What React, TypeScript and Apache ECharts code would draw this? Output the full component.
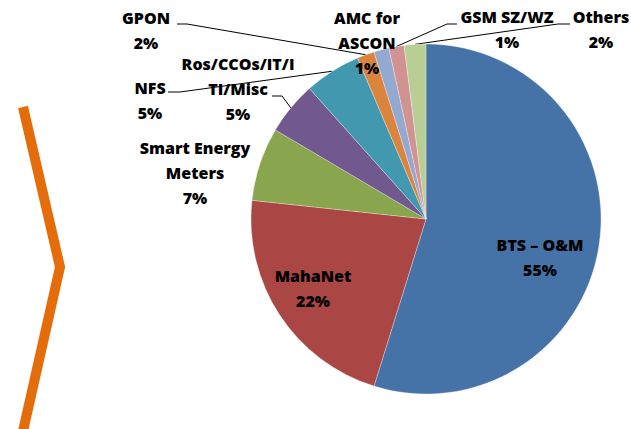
import React, { useEffect, useRef } from "react";
import * as echarts from "echarts";

// Data
const categories = [
  "BTS – O&M",
  "MahaNet",
  "Smart Energy Meters",
  "Ros/CCOs/IT/ITI/Misc",
  "NFS",
  "GPON",
  "AMC for ASCON",
  "GSM SZ/WZ",
  "Others",
];
const shares = [54.8, 21.9, 6.8, 4.9, 5.2, 1.6, 1.4, 1.4, 2.0];
// Label text as wrapped in the reference
const wrappedNames = [
  "BTS – O&M",
  "MahaNet",
  "Smart Energy\nMeters",
  "Ros/CCOs/IT/I\nTI/Misc",
  "NFS",
  "GPON",
  "AMC for\nASCON",
  "GSM SZ/WZ",
  "Others",
];

// Styling / layout
const colors = ["#4572A7", "#AA4643", "#89A54E", "#71588F", "#4198AF", "#DB843D", "#93A9CF", "#D19392", "#B9CD96"];
const labelCenters: number[][] = [
  [540, 257],
  [313, 288],
  [195, 173],
  [238, 89],
  [150, 100],
  [146, 30],
  [367, 43],
  [507, 29],
  [601, 29],
];
// [elbow, end] of leader lines (null = no leader line)
const leaders: (number[][] | null)[] = [
  null,
  null,
  null,
  [[282, 96], [272, 96]],
  [[180, 92], [168, 92]],
  [[187, 24], [177, 24]],
  null,
  [[447, 24], [457, 24]],
  [[558, 24], [570, 24]],
];
const FONT = "'Open Sans', Lato, sans-serif";

export default function App() {
  const ref = useRef<HTMLDivElement>(null);
  useEffect(() => {
    document.body.style.margin = "0";
    const chart = echarts.init(ref.current!, undefined, { renderer: "svg" });
    chart.setOption({
      animation: false,
      backgroundColor: "#ffffff",
      graphic: [
        {
          type: "polyline",
          shape: { points: [[23, 107], [60, 267], [21, 440]] },
          style: { stroke: "#E46C0A", lineWidth: 10, fill: null, lineJoin: "miter", lineCap: "butt" },
          z: 10,
        },
      ],
      series: [
        {
          type: "pie",
          center: [426, 219],
          radius: 175,
          startAngle: 90,
          clockwise: true,
          avoidLabelOverlap: false,
          percentPrecision: 0,
          itemStyle: { borderColor: "#ffffff", borderWidth: 0.3 },
          label: {
            show: true,
            position: "outside",
            color: "#000",
            fontFamily: FONT,
            fontWeight: 800,
            fontSize: 16,
            lineHeight: 25,
            formatter: (p: any) => `${wrappedNames[p.dataIndex]}\n${p.percent}%`,
          },
          labelLine: { show: true, length: 10, length2: 10, smooth: false, lineStyle: { color: "#000", width: 1 } },
          labelLayout: (p: any) => {
            const c = labelCenters[p.dataIndex];
            const out: any = { x: c[0], y: c[1], align: "center", verticalAlign: "middle" };
            const l = leaders[p.dataIndex];
            const pts = p.labelLinePoints;
            if (l && pts && pts[0]) {
              out.labelLinePoints = [pts[0], l[0], l[1]];
            }
            return out;
          },
          emphasis: { disabled: true },
          data: categories.map((name, i) => ({
            name,
            value: shares[i],
            itemStyle: { color: colors[i] },
            labelLine: { show: leaders[i] !== null },
          })),
        },
      ],
    });
    return () => chart.dispose();
  }, []);
  return <div ref={ref} style={{ width: 631, height: 429 }} />;
}
